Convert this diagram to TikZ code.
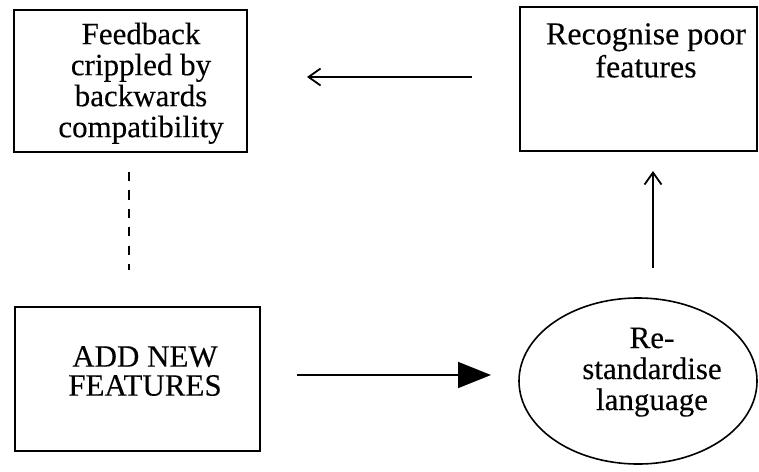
\documentclass[tikz,border=0pt]{standalone}
\usepackage{fontspec}
\newfontfamily\timesfam[FakeBold=0.2]{Liberation Serif}
\usetikzlibrary{arrows.meta,shapes.geometric}
\begin{document}
\begin{tikzpicture}[x=1pt,y=-1pt,
  box/.style={draw=black,line width=2pt,rectangle,inner sep=0pt},
  txt/.style={inner sep=0pt,anchor=north,align=center,font=\timesfam\fontsize{31}{31}\selectfont},
  conn/.style={line width=1.8pt},
  openhead/.style={-{Straight Barb[length=12pt,width=17pt,line width=1.8pt]}},
  solidhead/.style={-{Triangle[length=33pt,width=26pt]}}]
\useasboundingbox (0,0) rectangle (759,471);
% boxes
\node[box,minimum width=233pt,minimum height=142pt] (fb) at (130.5,81) {};
\node[box,minimum width=237pt,minimum height=144pt] (rec) at (638.5,79) {};
\node[box,minimum width=245pt,minimum height=144pt] (add) at (137.5,379) {};
\node[draw=black,line width=1.6pt,ellipse,minimum width=238pt,minimum height=166pt,inner sep=0pt] (std) at (638,381) {};
% texts
\node[txt] (fbtxt) at (141,22.5) {Feedback\\crippled by\\backwards\\compatibility};
\node[txt,font=\timesfam\fontsize{32}{33}\selectfont] (rectxt) at (646,23) {Recognise poor\\features};
\node[txt,font=\timesfam\fontsize{31}{29}\selectfont] (addtxt) at (145,346) {ADD NEW\\FEATURES};
\node[txt] (stdtxt) at (652,327.5) {Re-\\standardise\\language};
% connector end points
\coordinate (a1s) at (472,77);
\coordinate (a1e) at (307,77);
\coordinate (a2s) at (653,268);
\coordinate (a2e) at (653,171);
\coordinate (a3s) at (297,375);
\coordinate (a3e) at (491,375);
\coordinate (d1s) at (129,172);
\coordinate (d1e) at (129,270);
% connectors
\draw[conn,openhead] (a1s) -- (a1e);
\draw[conn,openhead] (a2s) -- (a2e);
\draw[conn,solidhead] (a3s) -- (a3e);
\draw[line width=2pt,dash pattern=on 9.2pt off 9.2pt] (d1s) -- (d1e);
\end{tikzpicture}
\end{document}
